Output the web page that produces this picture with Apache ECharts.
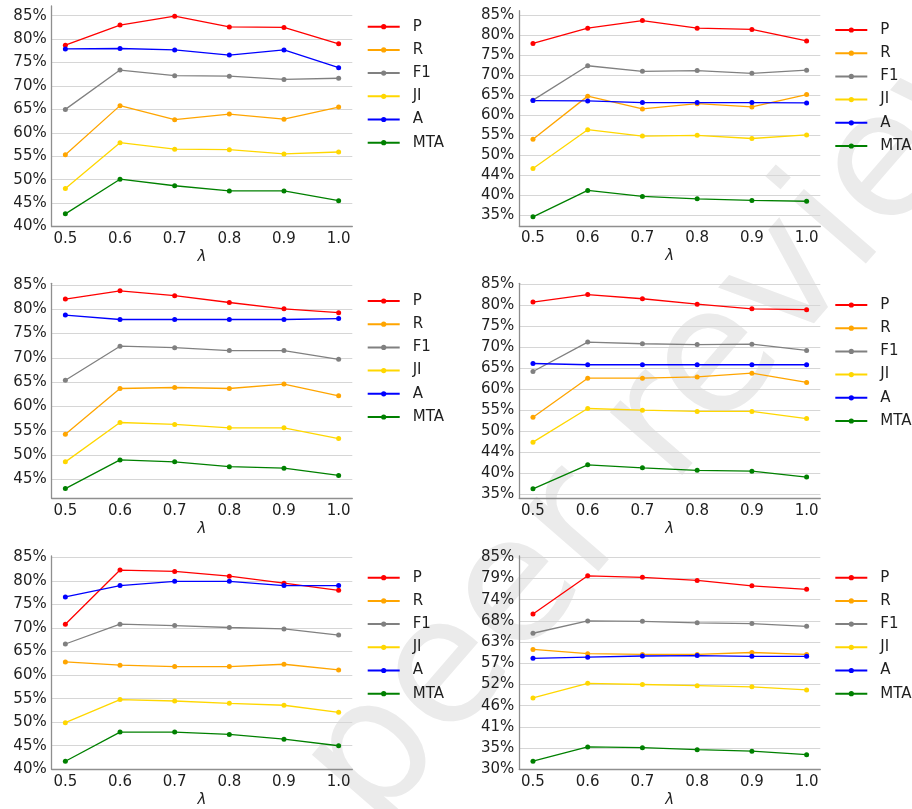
<!DOCTYPE html>
<html><head><meta charset="utf-8">
<script src="https://cdn.jsdelivr.net/npm/echarts@6/dist/echarts.min.js"></script>
<style>html,body{margin:0;padding:0;background:#fff}#c{width:912px;height:809px}</style>
</head><body><div id="c"></div>
<script>
// ---------- data ----------
const lambdas = [0.5, 0.6, 0.7, 0.8, 0.9, 1.0];
const lambdaTicks = [0.5, 0.6, 0.7, 0.8, 0.9, 1.0];
const metrics = ['P', 'R', 'F1', 'JI', 'A', 'MTA'];
const colors = ['#ff0000', '#ffa500', '#808080', '#ffd700', '#0000ff', '#008000'];

// rows follow metrics order: P, R, F1, JI, A, MTA
const panel1 = [
  [78.7, 83.0, 84.9, 82.6, 82.5, 79.0],
  [55.3, 65.8, 62.8, 64.0, 62.9, 65.5],
  [65.0, 73.4, 72.2, 72.1, 71.4, 71.65],
  [48.1, 57.9, 56.5, 56.4, 55.5, 55.9],
  [77.9, 78.0, 77.7, 76.6, 77.7, 73.9],
  [42.7, 50.1, 48.7, 47.6, 47.6, 45.5]
];
const panel2 = [
  [77.9, 81.7, 83.6, 81.7, 81.4, 78.5],
  [53.9, 64.7, 61.5, 62.8, 62.0, 65.1],
  [63.7, 72.3, 70.9, 71.1, 70.4, 71.2],
  [46.6, 56.3, 54.7, 54.9, 54.1, 55.0],
  [63.6, 63.5, 63.1, 63.1, 63.1, 63.0],
  [34.5, 41.1, 39.6, 39.0, 38.6, 38.4]
];
const panel3 = [
  [82.1, 83.8, 82.8, 81.4, 80.1, 79.3],
  [54.3, 63.7, 63.9, 63.7, 64.6, 62.2],
  [65.4, 72.4, 72.1, 71.5, 71.5, 69.7],
  [48.6, 56.7, 56.3, 55.6, 55.6, 53.4],
  [78.8, 77.9, 77.9, 77.9, 77.9, 78.1],
  [43.1, 49.0, 48.6, 47.6, 47.3, 45.8]
];
const panel4 = [
  [80.7, 82.5, 81.5, 80.2, 79.1, 78.9],
  [53.3, 62.6, 62.6, 62.9, 63.8, 61.6],
  [64.2, 71.2, 70.8, 70.6, 70.7, 69.2],
  [47.4, 55.4, 55.0, 54.7, 54.7, 53.0],
  [66.1, 65.8, 65.8, 65.8, 65.8, 65.8],
  [36.3, 42.0, 41.3, 40.7, 40.5, 39.1]
];
const panel5 = [
  [70.8, 82.3, 82.0, 81.0, 79.5, 78.0],
  [62.8, 62.1, 61.8, 61.8, 62.3, 61.1],
  [66.6, 70.8, 70.5, 70.1, 69.8, 68.5],
  [49.9, 54.8, 54.5, 54.0, 53.6, 52.1],
  [76.6, 79.0, 79.9, 79.9, 79.0, 79.0],
  [41.7, 47.9, 47.9, 47.4, 46.4, 45.0]
];
const panel6 = [
  [70.3, 80.2, 79.8, 79.0, 77.6, 76.7],
  [61.1, 60.0, 59.8, 59.8, 60.3, 59.8],
  [65.3, 68.5, 68.4, 68.0, 67.8, 67.1],
  [48.5, 52.3, 52.0, 51.7, 51.4, 50.6],
  [58.8, 59.1, 59.4, 59.5, 59.3, 59.3],
  [32.1, 35.8, 35.6, 35.1, 34.7, 33.8]
];

const yTicks1 = [40, 45, 50, 55, 60, 65, 70, 75, 80, 85];
const yLabels1 = ['40%', '45%', '50%', '55%', '60%', '65%', '70%', '75%', '80%', '85%'];
const yTicks2 = [35, 40, 45, 50, 55, 60, 65, 70, 75, 80, 85];
const yLabels2 = ['35%', '40%', '44%', '50%', '55%', '60%', '65%', '70%', '75%', '80%', '85%'];
const yTicks3 = [45, 50, 55, 60, 65, 70, 75, 80, 85];
const yLabels3 = ['45%', '50%', '55%', '60%', '65%', '70%', '75%', '80%', '85%'];
const yTicks4 = [35, 40, 45, 50, 55, 60, 65, 70, 75, 80, 85];
const yLabels4 = ['35%', '40%', '44%', '50%', '55%', '60%', '65%', '70%', '75%', '80%', '85%'];
const yTicks5 = [40, 45, 50, 55, 60, 65, 70, 75, 80, 85];
const yLabels5 = ['40%', '45%', '50%', '55%', '60%', '65%', '70%', '75%', '80%', '85%'];
const yTicks6 = [30, 35.5, 41, 46.5, 52, 57.5, 63, 68.5, 74, 79.5, 85];
const yLabels6 = ['30%', '35%', '41%', '46%', '52%', '57%', '63%', '68%', '74%', '79%', '85%'];

const watermarkText = 'not peer reviewed';

// ---------- layout (positions / styles only) ----------
const layout = [
  {left: 51.7, top: 6.0,   width: 300.6, height: 220.5, min: 40,    max: 87.07, lgLeft: 366.7, lgTop: 18.7},
  {left: 519.3, top: 10.7, width: 301.0, height: 215.3, min: 32.2,  max: 86.08, lgLeft: 834.3, lgTop: 22.0},
  {left: 51.7, top: 283.3, width: 300.6, height: 215.0, min: 41.1,  max: 85.35, lgLeft: 366.7, lgTop: 293.0},
  {left: 519.3, top: 283.3, width: 301.0, height: 215.0, min: 34.05, max: 85.17, lgLeft: 834.3, lgTop: 297.0},
  {left: 51.7, top: 556.0, width: 300.6, height: 213.3, min: 40,    max: 85.28, lgLeft: 366.7, lgTop: 569.7},
  {left: 519.3, top: 556.0, width: 301.0, height: 213.3, min: 30,    max: 85.34, lgLeft: 834.3, lgTop: 569.7}
];
const panels = [panel1, panel2, panel3, panel4, panel5, panel6];
const yTicks = [yTicks1, yTicks2, yTicks3, yTicks4, yTicks5, yTicks6];
const yLabels = [yLabels1, yLabels2, yLabels3, yLabels4, yLabels5, yLabels6];

const FONT = '"DejaVu Sans", sans-serif';
const TXT = '#1f1f1f';
const SPINE = '#8f8f8f';
const GRIDC = '#d6d6d6';

const grids = [], xAxes = [], yAxes = [], series = [], legends = [];
layout.forEach((L, i) => {
  grids.push({left: L.left, top: L.top, width: L.width, height: L.height, containLabel: false, outerBoundsMode: 'none'});
  xAxes.push({
    type: 'value', gridIndex: i, min: 0.475, max: 1.025,
    name: 'λ', nameLocation: 'middle', nameGap: 23,
    nameTextStyle: {fontFamily: FONT, fontSize: 15, fontStyle: 'italic', color: TXT},
    axisLine: {show: true, onZero: false, lineStyle: {color: SPINE, width: 1.3}},
    axisTick: {show: false, customValues: lambdaTicks},
    axisLabel: {customValues: lambdaTicks, formatter: v => v.toFixed(1), fontFamily: FONT, fontSize: 15, color: TXT, margin: 5},
    splitLine: {show: false}
  });
  const tk = yTicks[i], lb = yLabels[i];
  yAxes.push({
    type: 'value', gridIndex: i, min: L.min, max: L.max,
    axisLine: {show: true, onZero: false, lineStyle: {color: SPINE, width: 1.3}},
    axisTick: {show: false, customValues: tk},
    axisLabel: {
      customValues: tk,
      formatter: v => { const k = tk.findIndex(t => Math.abs(t - v) < 1e-6); return k >= 0 ? lb[k] : ''; },
      fontFamily: FONT, fontSize: 15, color: TXT, margin: 5
    },
    splitLine: {show: true, lineStyle: {color: GRIDC, width: 1}}
  });
  metrics.forEach((m, j) => {
    series.push({
      type: 'line', name: m, xAxisIndex: i, yAxisIndex: i,
      data: lambdas.map((x, k) => [x, panels[i][j][k]]),
      symbol: 'circle', symbolSize: 5, showSymbol: true,
      lineStyle: {color: colors[j], width: 1.3},
      itemStyle: {color: colors[j]},
      emphasis: {disabled: true}, animation: false, z: 3
    });
  });
  legends.push({
    orient: 'vertical', left: L.lgLeft, top: L.lgTop, padding: 0,
    data: metrics, itemWidth: 32, itemHeight: 6.5, itemGap: 7.2,
    selectedMode: false,
    textStyle: {fontFamily: FONT, fontSize: 15, color: TXT, lineHeight: 16, padding: [0, 0, 0, 8]}
  });
});

const chart = echarts.init(document.getElementById('c'), null, {renderer: 'canvas'});
chart.setOption({
  animation: false,
  backgroundColor: '#ffffff',
  color: colors,
  grid: grids, xAxis: xAxes, yAxis: yAxes, series: series, legend: legends,
  graphic: [{
    type: 'text', x: 115, y: 1058, rotation: 49 * Math.PI / 180, z: -10, silent: true,
    style: {text: watermarkText, font: '175px "DejaVu Sans"', fill: '#ebebeb', align: 'left', verticalAlign: 'middle'}
  }]
});
</script></body></html>
